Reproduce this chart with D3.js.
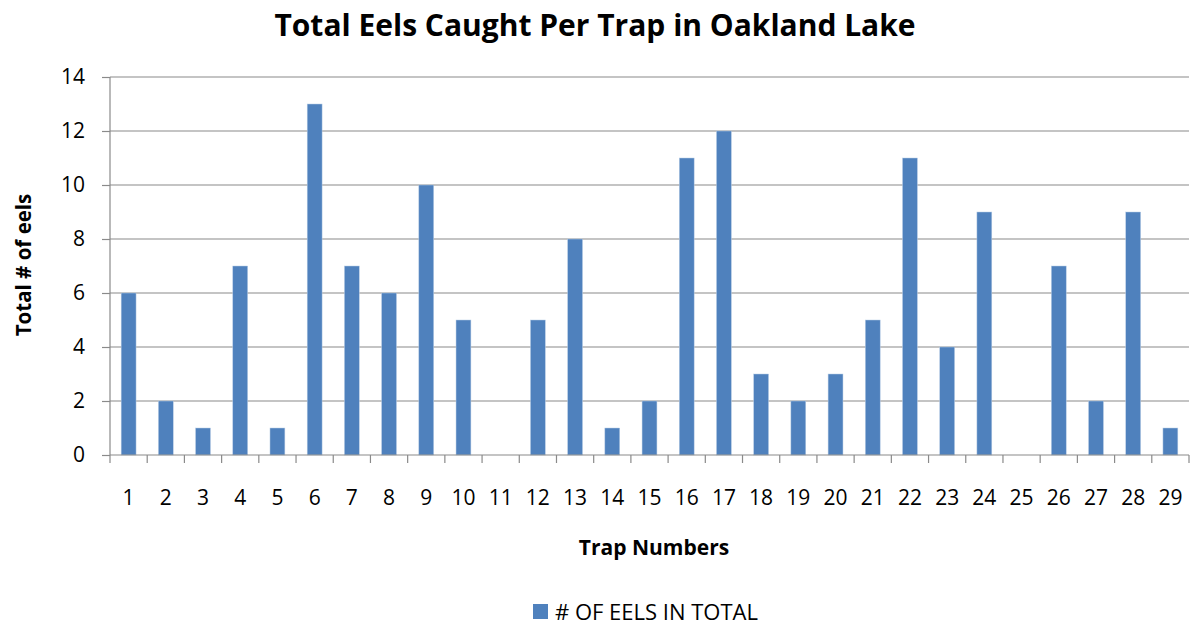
<!DOCTYPE html>
<head>
    <meta charset="utf-8">
    <script src="https://d3js.org/d3.v7.min.js"></script>
    <style>
        body { margin: 0; background: #fff; }
        text { font-family: "Open Sans", "Liberation Sans", sans-serif; fill: #000; }
    </style>
</head>
<body>
    <svg></svg>
    <script>
        // trap numbers and eel counts
        var traps = d3.range(1, 30).map(String);
        var eels = [6, 2, 1, 7, 1, 13, 7, 6, 10, 5, 0, 5, 8, 1, 2, 11, 12, 3, 2, 3, 5, 11, 4, 9, 0, 7, 2, 9, 1];
        var yTicks = [0, 2, 4, 6, 8, 10, 12, 14];
        var seriesName = "# OF EELS IN TOTAL";

        var W = 1191, H = 628;
        var margin = { top: 77, right: 2, bottom: 173, left: 110 },
            width = W - margin.left - margin.right,
            height = H - margin.top - margin.bottom;

        var svg = d3.select("svg")
            .attr("width", W)
            .attr("height", H);

        var x = d3.scaleBand()
            .domain(traps)
            .range([0, width])
            .paddingInner(0.6)
            .paddingOuter(0.3);
        var y = d3.scaleLinear()
            .domain([0, 14])
            .range([height, 0]);

        var g = svg.append("g")
            .attr("transform", "translate(" + margin.left + "," + margin.top + ")");

        // horizontal gridlines
        g.append("g")
            .selectAll("line")
            .data(yTicks.slice(1))
            .enter().append("line")
            .attr("x1", 0).attr("x2", width)
            .attr("y1", function (d) { return y(d); })
            .attr("y2", function (d) { return y(d); })
            .attr("stroke", "#8a8a8a")
            .attr("stroke-width", 1.2);

        // bars
        g.append("g")
            .selectAll("rect")
            .data(eels)
            .enter().append("rect")
            .attr("x", function (d, i) { return x(traps[i]); })
            .attr("width", x.bandwidth())
            .attr("y", function (d) { return y(d); })
            .attr("height", function (d) { return height - y(d); })
            .attr("fill", "#4f81bd")
            .attr("stroke", "#b9cde5")
            .attr("stroke-width", 0.5);

        // y axis
        var yAxis = g.append("g")
            .call(d3.axisLeft(y).tickValues(yTicks).tickSize(8).tickPadding(17).tickFormat(d3.format("d")));
        yAxis.select(".domain").attr("stroke", "#8a8a8a").attr("stroke-width", 1.2).attr("d", "M0,0V" + height);
        yAxis.selectAll(".tick line").attr("stroke", "#8a8a8a").attr("stroke-width", 1.2);
        yAxis.selectAll(".tick text").style("font-size", "21px").style("font-family", "'Open Sans', sans-serif").attr("fill", "#000");

        // x axis: ticks between categories
        var xAxis = g.append("g").attr("transform", "translate(0," + height + ")");
        xAxis.append("line")
            .attr("x1", 0).attr("x2", width)
            .attr("stroke", "#8a8a8a").attr("stroke-width", 1.2);
        xAxis.selectAll(".sep")
            .data(d3.range(traps.length + 1))
            .enter().append("line")
            .attr("class", "sep")
            .attr("x1", function (i) { return i * width / traps.length; })
            .attr("x2", function (i) { return i * width / traps.length; })
            .attr("y1", 0).attr("y2", 8)
            .attr("stroke", "#8a8a8a").attr("stroke-width", 1.2);
        xAxis.selectAll(".lbl")
            .data(traps)
            .enter().append("text")
            .attr("class", "lbl")
            .attr("x", function (d) { return x(d) + x.bandwidth() / 2; })
            .attr("y", 50)
            .attr("text-anchor", "middle")
            .style("font-size", "21px")
            .text(function (d) { return d; });

        // title
        svg.append("text")
            .attr("x", 595)
            .attr("y", 36)
            .attr("text-anchor", "middle")
            .style("font-size", "30px")
            .style("font-weight", "bold")
            .text("Total Eels Caught Per Trap in Oakland Lake");

        // axis titles
        svg.append("text")
            .attr("x", 654)
            .attr("y", 555)
            .attr("text-anchor", "middle")
            .style("font-size", "21px")
            .style("font-weight", "bold")
            .text("Trap Numbers");

        svg.append("text")
            .attr("transform", "translate(31,265) rotate(-90)")
            .attr("text-anchor", "middle")
            .style("font-size", "20.5px")
            .style("font-weight", "bold")
            .text("Total # of eels");

        // legend
        var legend = svg.append("g").attr("transform", "translate(533,604)");
        legend.append("rect")
            .attr("width", 15).attr("height", 15)
            .attr("fill", "#4f81bd");
        legend.append("text")
            .attr("x", 22).attr("y", 16)
            .style("font-size", "22px")
            .text(seriesName);
    </script>
</body>
